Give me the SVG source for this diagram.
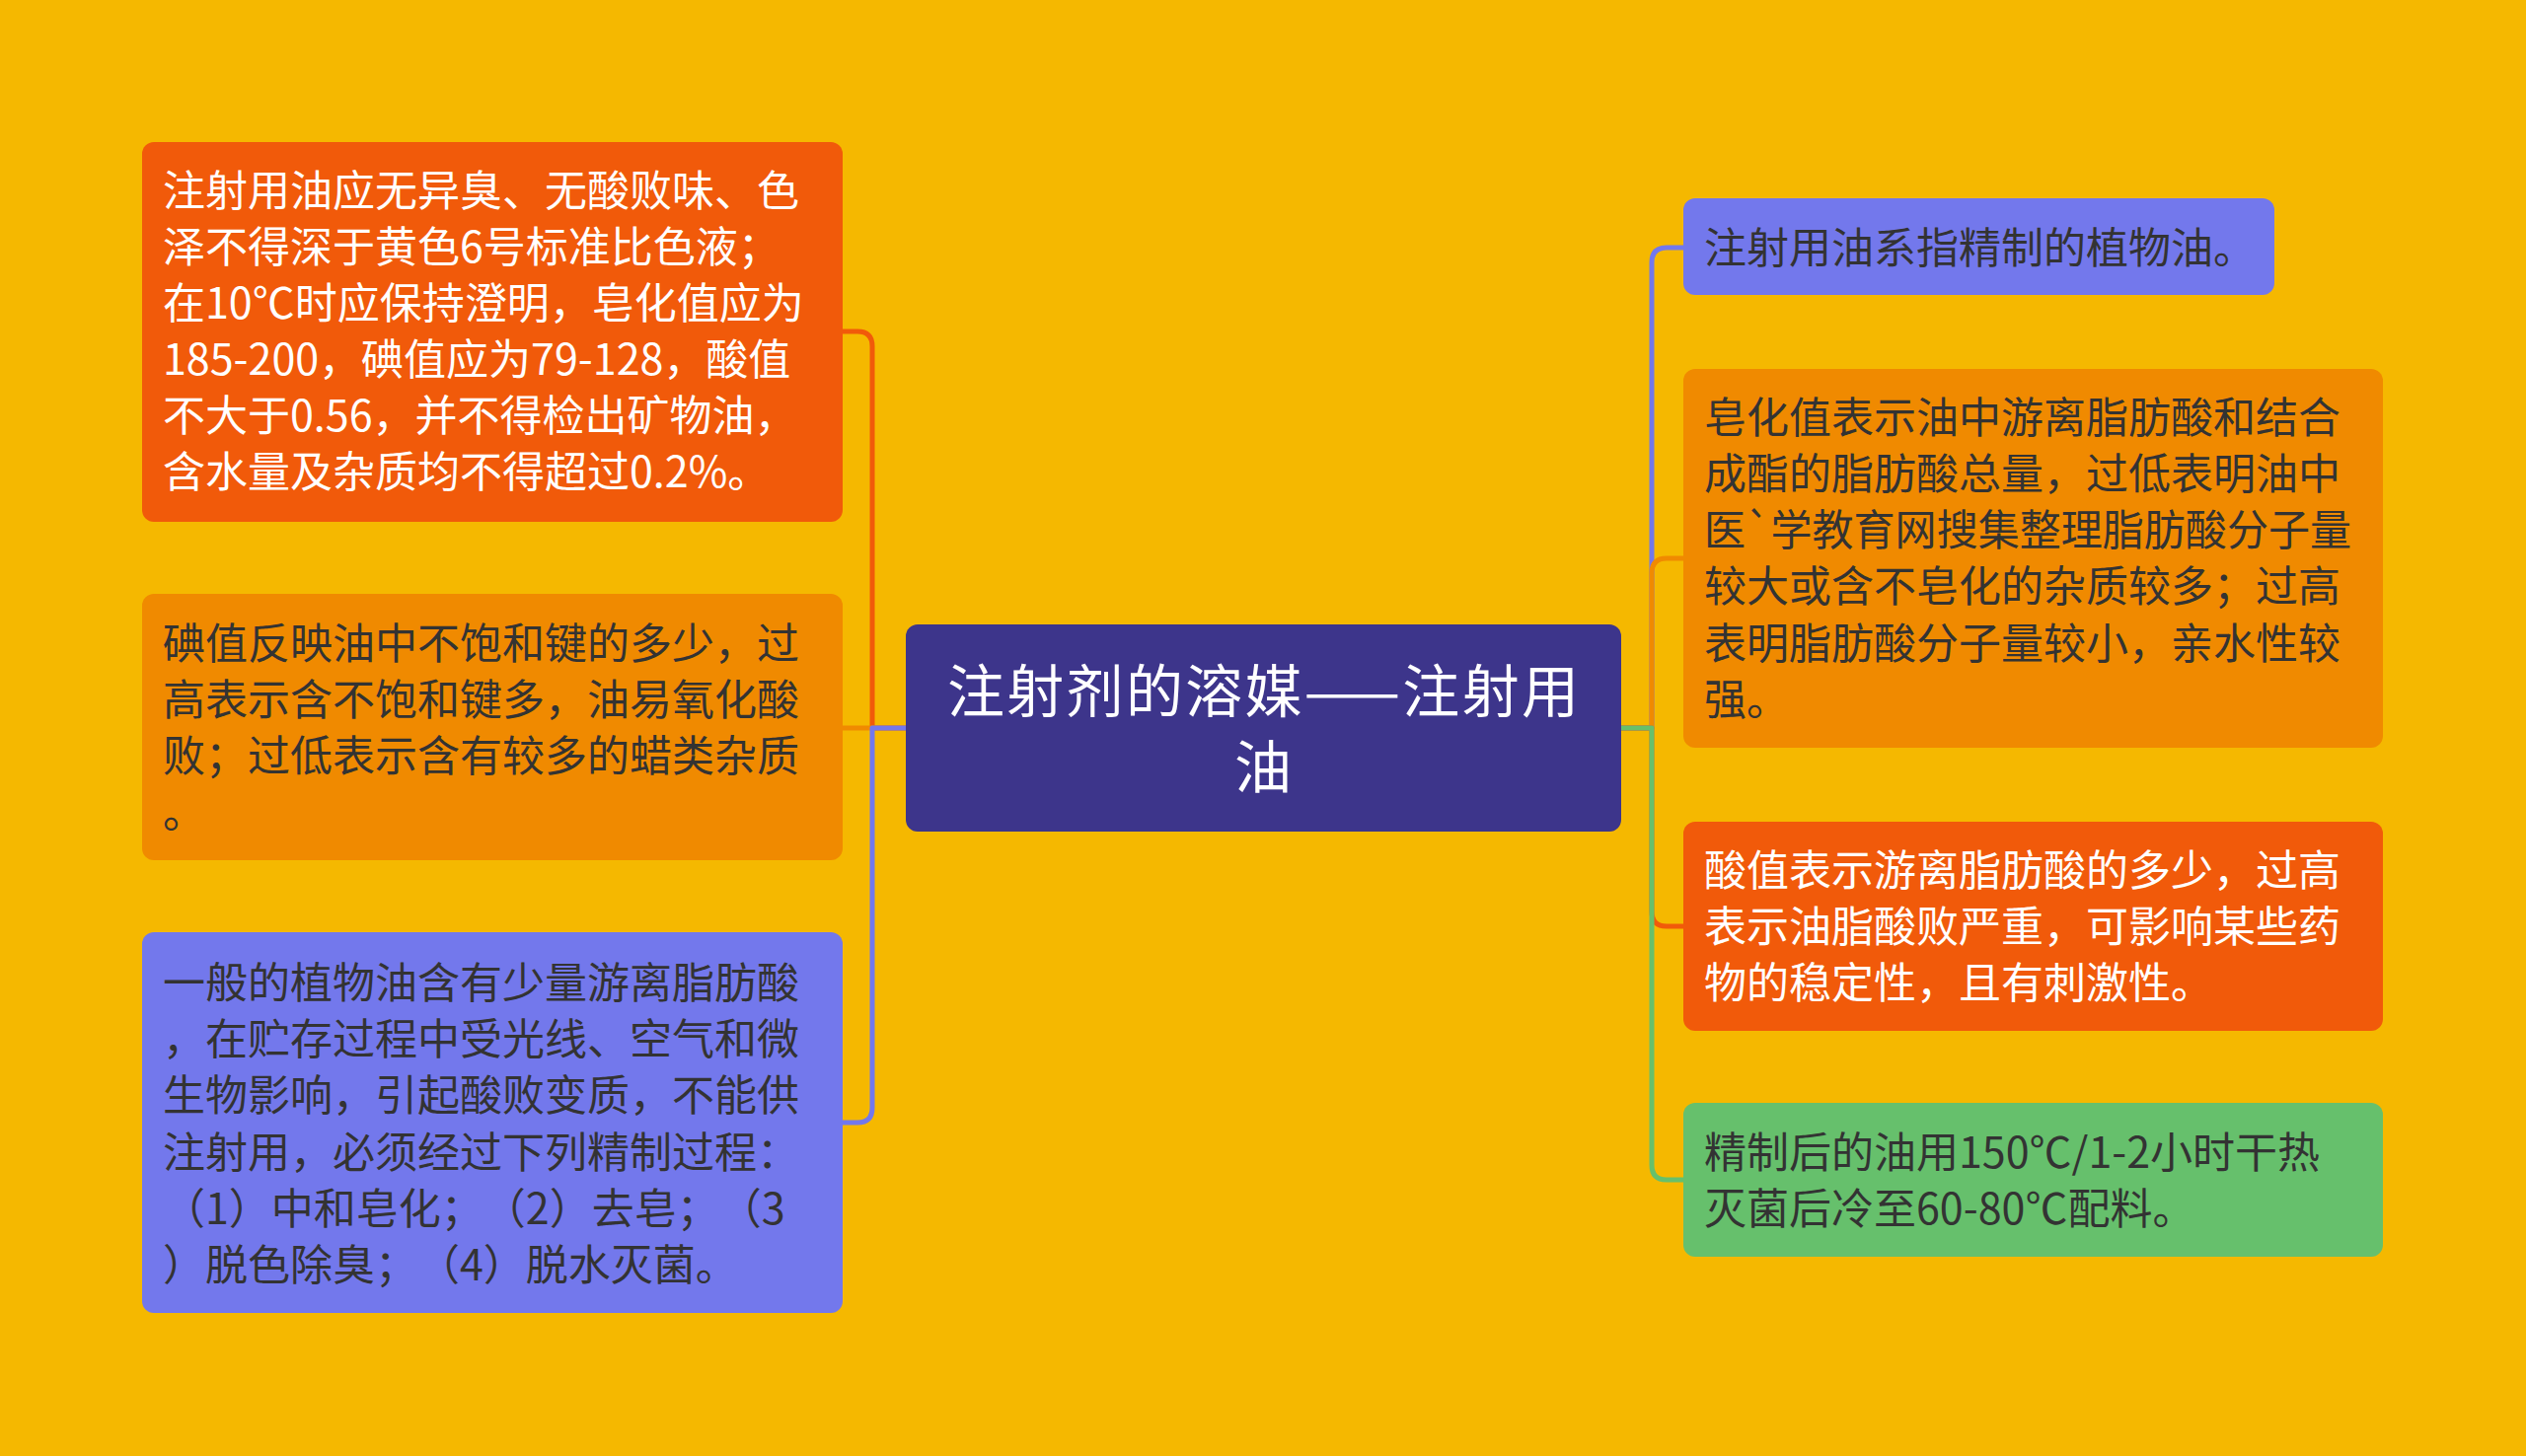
<svg xmlns="http://www.w3.org/2000/svg" width="2560" height="1476" viewBox="0 0 2560 1476">
<style>
.t{font-family:"Noto Sans CJK SC","Noto Sans",sans-serif;font-size:43px;text-spacing-trim:space-all;}
.dk{fill:#333333;}
.wh{fill:#ffffff;}
.c{font-family:"Noto Sans CJK SC","Noto Sans",sans-serif;font-size:58px;fill:#ffffff;text-anchor:middle;}
.ln{fill:none;stroke-width:5;stroke-linejoin:round;}
</style>
<rect x="0" y="0" width="2560" height="1476" fill="#F5B800"/>
<g id="connectors">
<path class="ln" stroke="#F15A0A" d="M918 738 L884 738 L884 351 Q884 336 869 336 L854 336"/>
<path class="ln" stroke="#F08A00" d="M918 738 L854 738"/>
<path class="ln" stroke="#7378EC" d="M918 738 L884 738 L884 1123 Q884 1138 869 1138 L854 1138"/>
<path class="ln" stroke="#7378EC" d="M1643 738 L1674 738 L1674 266 Q1674 251 1689 251 L1706 251"/>
<path class="ln" stroke="#F08A00" d="M1643 738 L1674 738 L1674 581 Q1674 566 1689 566 L1706 566"/>
<path class="ln" stroke="#F15A0A" d="M1643 738 L1674 738 L1674 924 Q1674 939 1689 939 L1706 939"/>
<path class="ln" stroke="#66C06C" d="M1643 738 L1674 738 L1674 1181 Q1674 1196 1689 1196 L1706 1196"/>
</g>
<g id="center">
<rect x="918" y="633" width="725" height="210" rx="12" fill="#3D358B"/>
<text class="c" x="1280" y="722" textLength="640" lengthAdjust="spacing">注射剂的溶媒——注射用</text>
<text class="c" x="1280" y="799">油</text>
</g>
<g id="left1">
<rect x="144" y="144" width="710" height="385" rx="12" fill="#F15A0A"/>
<text class="t wh" x="165" y="209">注射用油应无异臭、无酸败味、色</text>
<text class="t wh" x="165" y="266">泽不得深于黄色6号标准比色液；</text>
<text class="t wh" x="165" y="323">在10℃时应保持澄明，皂化值应为</text>
<text class="t wh" x="165" y="380">185-200，碘值应为79-128，酸值</text>
<text class="t wh" x="165" y="437">不大于0.56，并不得检出矿物油，</text>
<text class="t wh" x="165" y="494">含水量及杂质均不得超过0.2%。</text>
</g>
<g id="left2">
<rect x="144" y="602" width="710" height="270" rx="12" fill="#F08A00"/>
<text class="t dk" x="165" y="668">碘值反映油中不饱和键的多少，过</text>
<text class="t dk" x="165" y="725">高表示含不饱和键多，油易氧化酸</text>
<text class="t dk" x="165" y="782">败；过低表示含有较多的蜡类杂质</text>
<text class="t dk" x="165" y="839">。</text>
</g>
<g id="left3">
<rect x="144" y="945" width="710" height="386" rx="12" fill="#7378EC"/>
<text class="t dk" x="165" y="1012">一般的植物油含有少量游离脂肪酸</text>
<text class="t dk" x="165" y="1069">，在贮存过程中受光线、空气和微</text>
<text class="t dk" x="165" y="1126">生物影响，引起酸败变质，不能供</text>
<text class="t dk" x="165" y="1184">注射用，必须经过下列精制过程：</text>
<text class="t dk" x="165" y="1241">（1）中和皂化；（2）去皂；（3</text>
<text class="t dk" x="165" y="1298">）脱色除臭；（4）脱水灭菌。</text>
</g>
<g id="right1">
<rect x="1706" y="201" width="599" height="98" rx="12" fill="#7378EC"/>
<text class="t dk" x="1727" y="267">注射用油系指精制的植物油。</text>
</g>
<g id="right2">
<rect x="1706" y="374" width="709" height="384" rx="12" fill="#F08A00"/>
<text class="t dk" x="1727" y="439">皂化值表示油中游离脂肪酸和结合</text>
<text class="t dk" x="1727" y="496">成酯的脂肪酸总量，过低表明油中</text>
<text class="t dk" x="1727" y="553" textLength="656" lengthAdjust="spacingAndGlyphs">医`学教育网搜集整理脂肪酸分子量</text>
<text class="t dk" x="1727" y="610">较大或含不皂化的杂质较多；过高</text>
<text class="t dk" x="1727" y="668">表明脂肪酸分子量较小，亲水性较</text>
<text class="t dk" x="1727" y="725">强。</text>
</g>
<g id="right3">
<rect x="1706" y="833" width="709" height="212" rx="12" fill="#F15A0A"/>
<text class="t wh" x="1727" y="898">酸值表示游离脂肪酸的多少，过高</text>
<text class="t wh" x="1727" y="955">表示油脂酸败严重，可影响某些药</text>
<text class="t wh" x="1727" y="1012">物的稳定性，且有刺激性。</text>
</g>
<g id="right4">
<rect x="1706" y="1118" width="709" height="156" rx="12" fill="#66C06C"/>
<text class="t dk" x="1727" y="1184">精制后的油用150℃/1-2小时干热</text>
<text class="t dk" x="1727" y="1241">灭菌后冷至60-80℃配料。</text>
</g>
</svg>
